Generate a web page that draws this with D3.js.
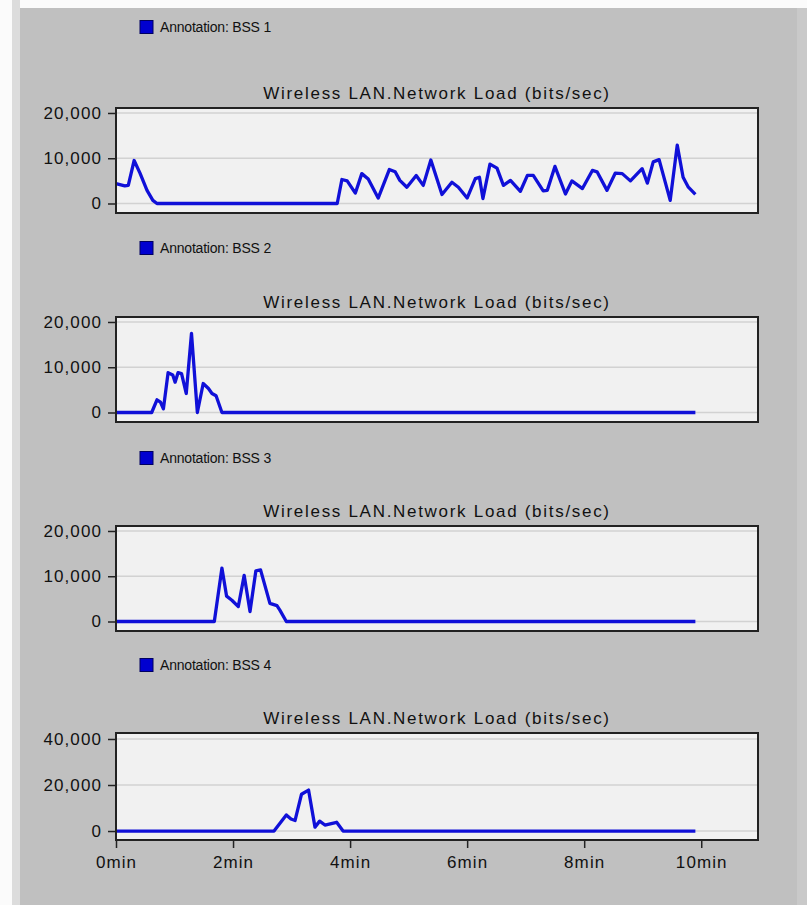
<!DOCTYPE html>
<html>
<head>
<meta charset="utf-8">
<script src="https://cdn.jsdelivr.net/npm/d3@7/dist/d3.min.js"></script>
<style>
  body { margin: 0; background: #fff; }
  text { font-family: "Liberation Sans", Arial, sans-serif; fill: #111; }
  .axis path { display: none; }
  .axis line { stroke: #222; stroke-width: 1.5; }
  .axis text { font-size: 17px; letter-spacing: 1.1px; }
  .title { font-size: 17px; letter-spacing: 1.7px; }
  .legend { font-size: 14px; letter-spacing: -0.2px; }
</style>
</head>
<body>
<svg id="chart" width="807" height="905"></svg>
<script>
// annotation names shown above each panel
var bssNames = ['Annotation: BSS 1', 'Annotation: BSS 2', 'Annotation: BSS 3', 'Annotation: BSS 4'];
var chartTitle = 'Wireless LAN.Network Load (bits/sec)';

// time in minutes, load in bits/sec
var bss1Time = [0, 0.15, 0.21, 0.31, 0.41, 0.53, 0.63, 0.70, 3.78, 3.86, 3.95, 4.09, 4.20, 4.31, 4.48,
  4.67, 4.77, 4.85, 4.97, 5.13, 5.25, 5.38, 5.57, 5.74, 5.85, 6.00, 6.14, 6.21, 6.27,
  6.39, 6.51, 6.62, 6.74, 6.91, 7.03, 7.13, 7.30, 7.37, 7.50, 7.68, 7.79, 7.97,
  8.14, 8.22, 8.39, 8.53, 8.65, 8.79, 8.99, 9.08, 9.18, 9.28, 9.47, 9.59, 9.69, 9.78, 9.90];
var bss1Load = [4400, 3900, 4000, 9500, 6700, 2900, 700, 0, 0, 5300, 5000, 2300, 6600, 5400, 1200,
  7500, 7000, 5100, 3600, 6200, 4000, 9600, 2000, 4700, 3600, 1200, 5500, 5800, 1100,
  8700, 7800, 4000, 5100, 2700, 6200, 6200, 2800, 2900, 8200, 2100, 5000, 3300,
  7300, 7000, 2900, 6700, 6600, 5000, 7700, 4500, 9200, 9700, 700, 12900, 5800, 3600, 2000];

var bss2Time = [0, 0.61, 0.70, 0.76, 0.81, 0.89, 0.97, 1.01, 1.06, 1.12, 1.20, 1.29, 1.39, 1.49, 1.58, 1.64, 1.71, 1.81, 9.90];
var bss2Load = [0, 0, 2800, 2300, 800, 8800, 8300, 6700, 8800, 8600, 4200, 17500, 0, 6400, 5300, 4200, 3700, 0, 0];

var bss3Time = [0, 1.68, 1.81, 1.89, 1.98, 2.09, 2.19, 2.29, 2.39, 2.47, 2.63, 2.75, 2.80, 2.91, 9.90];
var bss3Load = [0, 0, 11800, 5600, 4700, 3300, 10200, 2200, 11200, 11400, 4000, 3500, 2500, 0, 0];

var bss4Time = [0, 2.70, 2.91, 2.99, 3.06, 3.17, 3.29, 3.40, 3.48, 3.57, 3.77, 3.88, 9.90];
var bss4Load = [0, 0, 7000, 5200, 4600, 16000, 17800, 1700, 4300, 2600, 3800, 0, 0];

var yTicksSmall = [0, 10000, 20000];
var yTicksBig = [0, 20000, 40000];
var xTicks = [0, 2, 4, 6, 8, 10];

var svg = d3.select('#chart');

// window background
svg.append('rect').attr('width', 807).attr('height', 905).attr('fill', '#c0c0c0');
svg.append('rect').attr('x', 0).attr('y', 0).attr('width', 807).attr('height', 8).attr('fill', '#fbfbfb');
svg.append('rect').attr('x', 0).attr('y', 0).attr('width', 12).attr('height', 905).attr('fill', '#fbfbfb');
svg.append('rect').attr('x', 12).attr('y', 0).attr('width', 8).attr('height', 905).attr('fill', '#dcdcdc');
svg.append('rect').attr('x', 797).attr('y', 8).attr('width', 10).attr('height', 897).attr('fill', '#c9c9c9');

var plotLeft = 116, plotRight = 758;
var panelTop = [108, 317, 526, 733];
var panelHeight = [105, 105, 105, 107];
var legendY = [27, 248, 458, 665];

var panels = [
  {time: bss1Time, load: bss1Load, ticks: yTicksSmall, domain: [-2100, 21100]},
  {time: bss2Time, load: bss2Load, ticks: yTicksSmall, domain: [-2100, 21100]},
  {time: bss3Time, load: bss3Load, ticks: yTicksSmall, domain: [-2100, 21100]},
  {time: bss4Time, load: bss4Load, ticks: yTicksBig, domain: [-3900, 42600]}
];

var xScale = d3.scaleLinear().domain([0, 10.97]).range([plotLeft, plotRight]);

panels.forEach(function(p, i) {
  var top = panelTop[i], h = panelHeight[i];
  var yScale = d3.scaleLinear().domain(p.domain).range([top + h, top]);

  // legend
  svg.append('rect')
    .attr('x', 140).attr('y', legendY[i] - 6.5)
    .attr('width', 13).attr('height', 13)
    .attr('fill', '#0000d0').attr('stroke', '#000060').attr('stroke-width', 1);
  svg.append('text')
    .attr('class', 'legend')
    .attr('x', 160).attr('y', legendY[i] + 5)
    .text(bssNames[i]);

  // title
  svg.append('text')
    .attr('class', 'title')
    .attr('x', (plotLeft + plotRight) / 2).attr('y', top - 9)
    .attr('text-anchor', 'middle')
    .text(chartTitle);

  // plot box
  svg.append('rect')
    .attr('x', plotLeft).attr('y', top)
    .attr('width', plotRight - plotLeft).attr('height', h)
    .attr('fill', '#f1f1f1');

  svg.append('g').selectAll('line')
    .data(p.ticks).enter().append('line')
    .attr('x1', plotLeft).attr('x2', plotRight)
    .attr('y1', function(d) { return yScale(d); })
    .attr('y2', function(d) { return yScale(d); })
    .attr('stroke', '#d2d2d2').attr('stroke-width', 1.5);

  var yAxis = d3.axisLeft(yScale)
    .tickValues(p.ticks)
    .tickFormat(d3.format(','))
    .tickSize(8).tickPadding(6);
  svg.append('g').attr('class', 'axis')
    .attr('transform', 'translate(' + plotLeft + ',0)')
    .call(yAxis);

  // the load line
  var line = d3.line()
    .x(function(d) { return xScale(d[0]); })
    .y(function(d) { return yScale(d[1]); });
  svg.append('path')
    .datum(d3.zip(p.time, p.load))
    .attr('d', line)
    .attr('fill', 'none')
    .attr('stroke', '#1010d8')
    .attr('stroke-width', 3.3)
    .attr('stroke-linejoin', 'round');

  svg.append('rect')
    .attr('x', plotLeft).attr('y', top)
    .attr('width', plotRight - plotLeft).attr('height', h)
    .attr('fill', 'none').attr('stroke', '#222').attr('stroke-width', 2);

  // only the last panel carries the time axis
  if (i == panels.length - 1) {
    var xAxis = d3.axisBottom(xScale)
      .tickValues(xTicks)
      .tickFormat(function(d) { return d + 'min'; })
      .tickSize(8).tickPadding(8);
    svg.append('g').attr('class', 'axis')
      .attr('transform', 'translate(0,' + (top + h) + ')')
      .call(xAxis);
  }
});
</script>
</body>
</html>
